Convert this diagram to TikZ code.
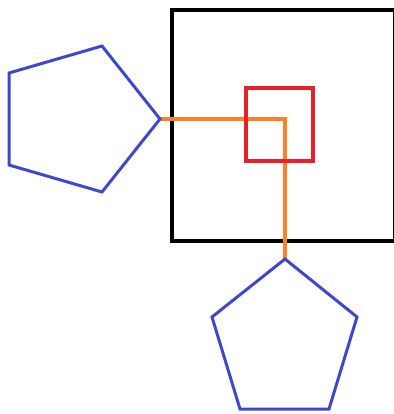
\documentclass[tikz,border=0pt]{standalone}
\usetikzlibrary{positioning}
\definecolor{penblue}{RGB}{61,72,204}
\definecolor{boxred}{RGB}{232,32,44}
\definecolor{linkorange}{RGB}{255,128,36}

\begin{document}
\begin{tikzpicture}[
    x=1pt, y=-1pt,
    outer_box/.style={draw=black, line width=4.5pt},
    inner_box/.style={draw=boxred, line width=3.5pt},
    pent/.style={draw=penblue, line width=3pt, line join=miter},
    link/.style={draw=linkorange, line width=3.5pt}
]
\useasboundingbox (0,0) rectangle (393,414);

% Frames
\draw[outer_box] (172,10) rectangle (395.5,241);

% Left pentagon corners
\coordinate (lp_tip) at (160,119);
\coordinate (lp_top) at (102,46);
\coordinate (lp_ul) at (9,73);
\coordinate (lp_ll) at (9,165);
\coordinate (lp_bot) at (102,192);

% Lower pentagon corners
\coordinate (bp_tip) at (285,259);
\coordinate (bp_right) at (357,317);
\coordinate (bp_lr) at (329,409);
\coordinate (bp_ll) at (240,409);
\coordinate (bp_left) at (212,317);

% Connection
\draw[link] (lp_tip) -| (bp_tip);

\draw[inner_box] (246,88) rectangle (313,161);

% Pentagons
\draw[pent] (lp_tip) -- (lp_top) -- (lp_ul) -- (lp_ll) -- (lp_bot) -- cycle;
\draw[pent] (bp_tip) -- (bp_right) -- (bp_lr) -- (bp_ll) -- (bp_left) -- cycle;

\end{tikzpicture}
\end{document}
